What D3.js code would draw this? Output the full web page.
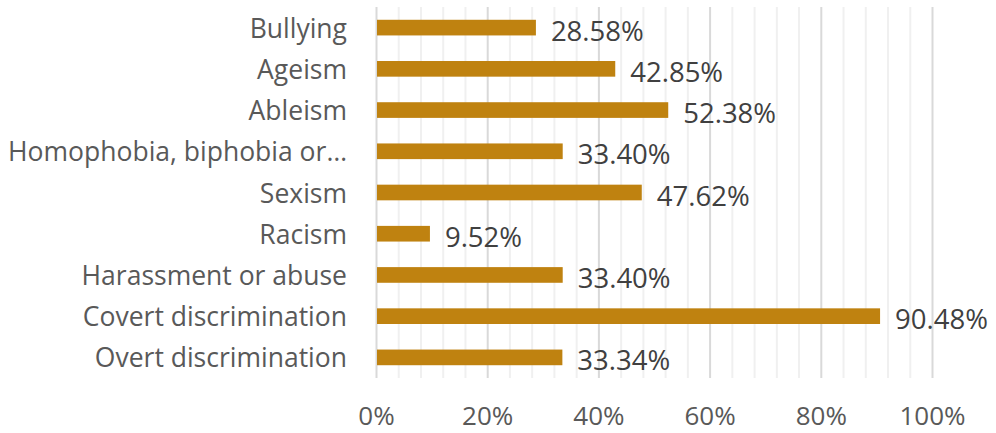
<!DOCTYPE html>
<html>
<head>
<meta charset="utf-8">
<script src="https://cdn.jsdelivr.net/npm/d3@7"></script>
<style>
  html, body { margin: 0; padding: 0; background: #fff; }
  svg { display: block; font-family: "Open Sans", "Noto Sans", sans-serif; }
</style>
</head>
<body>
<svg id="chart" width="996" height="433"></svg>
<script>
// Categories, top to bottom
const categories = [
  "Bullying",
  "Ageism",
  "Ableism",
  "Homophobia, biphobia or transphobia",
  "Sexism",
  "Racism",
  "Harassment or abuse",
  "Covert discrimination",
  "Overt discrimination"
];
// Share of respondents (%)
const values = [28.58, 42.85, 52.38, 33.40, 47.62, 9.52, 33.40, 90.48, 33.34];
const valueLabels = ["28.58%", "42.85%", "52.38%", "33.40%", "47.62%", "9.52%", "33.40%", "90.48%", "33.34%"];
const tickValues = [0, 20, 40, 60, 80, 100];
const tickLabels = ["0%", "20%", "40%", "60%", "80%", "100%"];
const minorTicks = d3.range(0, 101, 4);

const svg = d3.select("#chart");
const plot = { left: 376, right: 932, top: 7, bottom: 378 };

const x = d3.scaleLinear().domain([0, 100]).range([plot.left, plot.right]);
const y = d3.scaleBand().domain(categories).range([plot.top, plot.bottom]).paddingInner(0.62).paddingOuter(0.31);

// Minor gridlines
svg.append("g").selectAll("line").data(minorTicks.filter(d => d % 20 !== 0)).join("line")
  .attr("x1", d => x(d) + 0.5).attr("x2", d => x(d) + 0.5)
  .attr("y1", plot.top).attr("y2", plot.bottom)
  .attr("stroke", "#f0f0f0").attr("stroke-width", 2);

// Major gridlines
svg.append("g").selectAll("line").data(tickValues).join("line")
  .attr("x1", d => x(d) + 0.5).attr("x2", d => x(d) + 0.5)
  .attr("y1", plot.top).attr("y2", plot.bottom)
  .attr("stroke", "#d9d9d9").attr("stroke-width", 2);

// Bars
svg.append("g").selectAll("rect").data(categories).join("rect")
  .attr("x", x(0) + 1)
  .attr("y", d => y(d))
  .attr("width", (d, i) => x(values[i]) - x(0))
  .attr("height", y.bandwidth())
  .attr("fill", "#bf8210");

// Value labels
svg.append("g").selectAll("text").data(categories).join("text")
  .attr("x", (d, i) => x(values[i]) + 16)
  .attr("y", d => y(d) + y.bandwidth() / 2 + 13)
  .attr("fill", "#404040")
  .attr("font-size", 27.5)
  .text((d, i) => valueLabels[i]);

// Category axis labels (long names cut at a word boundary with an ellipsis)
const catLabels = svg.append("g").selectAll("text").data(categories).join("text")
  .attr("x", 347)
  .attr("y", d => y(d) + y.bandwidth() / 2 + 10)
  .attr("text-anchor", "end")
  .attr("fill", "#595959")
  .attr("font-size", 26.5)
  .text(d => d);
const maxWidth = 345;
catLabels.each(function(d) {
  const t = d3.select(this);
  if (this.getComputedTextLength() > maxWidth) {
    const words = d.split(" ");
    while (words.length > 1) {
      words.pop();
      t.text(words.join(" ") + "…");
      if (this.getComputedTextLength() <= maxWidth) break;
    }
  }
});

// Value axis
const xAxis = d3.axisBottom(x).tickValues(tickValues).tickFormat((d, i) => tickLabels[i]).tickSize(0).tickPadding(0);
const gx = svg.append("g").attr("transform", `translate(0, ${plot.bottom})`).call(xAxis);
gx.select(".domain").remove();
gx.selectAll("text")
  .attr("dy", null)
  .attr("y", 47)
  .attr("fill", "#595959")
  .attr("font-size", 26)
  .attr("font-family", "\"Open Sans\", \"Noto Sans\", sans-serif");
</script>
</body>
</html>
